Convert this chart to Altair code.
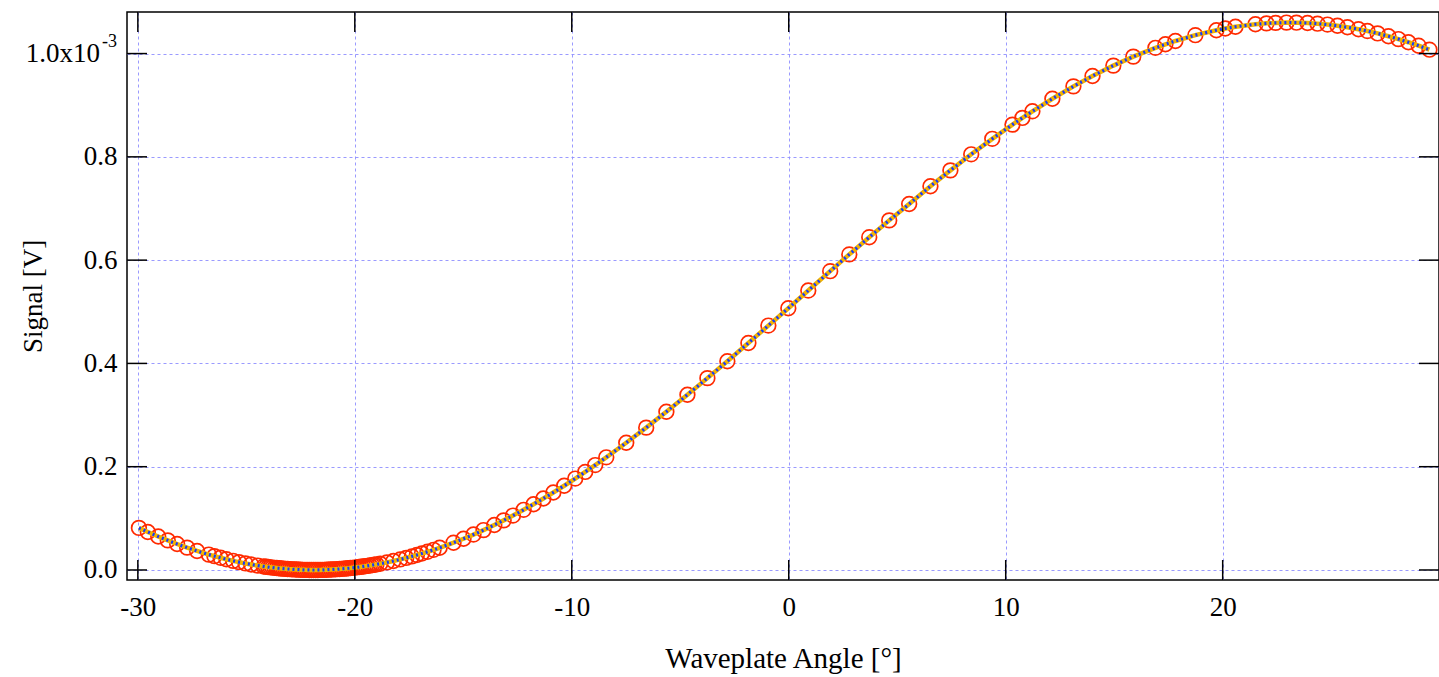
import altair as alt
import pandas as pd

# Waveplate angle (degrees) of each measured point
angle_deg = [
    -29.95, -29.54, -29.06, -28.62, -28.19, -27.73, -27.27, -26.73, -26.47, -26.19,
    -25.92, -25.61, -25.34, -25.04, -24.78, -24.47,
    -24.2, -24.1, -24.0, -23.9, -23.8, -23.7, -23.6, -23.5, -23.4, -23.3,
    -23.2, -23.1, -23.0, -22.9, -22.8, -22.7, -22.6, -22.5, -22.4, -22.3,
    -22.2, -22.1, -22.0, -21.9, -21.8, -21.7, -21.6, -21.5, -21.4, -21.3,
    -21.2, -21.1, -21.0, -20.9, -20.8, -20.7, -20.6, -20.5, -20.4, -20.3,
    -20.2, -20.1, -20.0, -19.9, -19.8, -19.7, -19.6, -19.5, -19.4, -19.3,
    -19.2, -19.1, -19.0,
    -18.83, -18.52, -18.22, -17.91, -17.63, -17.37, -17.14, -16.91, -16.65, -16.37, -16.09,
    -15.45, -14.99, -14.53, -14.07, -13.57, -13.14, -12.71, -12.22, -11.76, -11.31,
    -10.85, -10.35, -9.84, -9.38, -8.92, -8.41,
    -7.49, -6.57, -5.64, -4.67, -3.75, -2.83, -1.86, -0.94, -0.02, 0.90,
    1.91, 2.79, 3.71, 4.63, 5.55, 6.53, 7.45, 8.41, 9.38, 10.31,
    10.77, 11.23, 12.15, 13.12, 14.00, 14.96, 15.88, 16.90, 17.36, 17.82,
    18.74, 19.71, 20.12, 20.59, 21.51, 22.02, 22.44, 22.94, 23.40, 23.91,
    24.37, 24.83, 25.29, 25.75, 26.26, 26.67, 27.14, 27.64, 28.10, 28.56,
    29.03, 29.53,
]

# Signal in units of 1e-3 V
signal_e3 = [
    0.0815, 0.0736, 0.0648, 0.0573, 0.0503, 0.0433, 0.0368, 0.0298, 0.0268, 0.0236,
    0.0207, 0.0177, 0.0152, 0.0127, 0.0107, 0.0085,
    0.00683, 0.00625, 0.00569, 0.00516, 0.00466, 0.00418, 0.00373, 0.00331, 0.00290, 0.00253,
    0.00218, 0.00186, 0.00156, 0.00129, 0.00105, 0.00083, 0.00063, 0.00046, 0.00032, 0.00021,
    0.00012, 0.00005, 0.00001, 0.00000, 0.00001, 0.00005, 0.00012, 0.00021, 0.00032, 0.00046,
    0.00063, 0.00083, 0.00105, 0.00129, 0.00156, 0.00186, 0.00218, 0.00253, 0.00290, 0.00331,
    0.00373, 0.00418, 0.00466, 0.00516, 0.00569, 0.00625, 0.00683, 0.00744, 0.00807, 0.00873,
    0.00941, 0.01012, 0.01086,
    0.01213, 0.01469, 0.01739, 0.02043, 0.02338, 0.02628, 0.02900, 0.03184, 0.03520, 0.03901, 0.04301,
    0.05283, 0.06048, 0.06861, 0.07723, 0.08714, 0.09608, 0.10539, 0.11648, 0.12734, 0.13836,
    0.15003, 0.16317, 0.17701, 0.18988, 0.20312, 0.21818,
    0.24632, 0.27563, 0.30635, 0.33937, 0.37151, 0.40427, 0.43947, 0.47328, 0.50688, 0.54110,
    0.57862, 0.61108, 0.64441, 0.67696, 0.70866, 0.74313, 0.77383, 0.80490, 0.83490, 0.86241,
    0.87543, 0.88820, 0.91254, 0.93648, 0.95659, 0.97669, 0.99409, 1.01112, 1.01800, 1.02440,
    1.03564, 1.04524, 1.04856, 1.05188, 1.05674, 1.05850, 1.05944, 1.05997, 1.05988, 1.05915,
    1.05792, 1.05614, 1.05381, 1.05095, 1.04715, 1.04361, 1.03905, 1.03360, 1.02804, 1.02196,
    1.01523, 1.00752,
]

x_ticks = [-30, -20, -10, 0, 10, 20]
y_ticks = [0.0, 0.0002, 0.0004, 0.0006, 0.0008, 0.0010]
x_domain = [-30.5, 29.97]
y_domain = [-0.0000194, 0.0010805]

df = pd.DataFrame({"angle": angle_deg, "signal": [v * 1e-3 for v in signal_e3]})
xt = pd.DataFrame({"angle": x_ticks})
yt = pd.DataFrame({"signal": y_ticks})
top_label = pd.DataFrame({"signal": [0.0010], "t": ["1.0x10"], "e": ["-3"]})

W, H = 1312, 568
FONT = "Liberation Serif"
xs = alt.Scale(domain=x_domain, nice=False, zero=False)
ys = alt.Scale(domain=y_domain, nice=False, zero=False)

x_axis = alt.Axis(
    values=x_ticks, title="Waveplate Angle [°]", labelExpr="'' + datum.value",
    labelPadding=14, titleY=78, titleBaseline="middle", titleFontSize=29,
)
y_axis = alt.Axis(
    values=y_ticks, title="Signal [V]",
    labelExpr="datum.value > 0.00095 ? '' : format(datum.value * 1000, '.1f')",
    labelPadding=10, titleX=-94, titleY=284, titleBaseline="middle",
)

X = alt.X("angle:Q", scale=xs)
Y = alt.Y("signal:Q", scale=ys)

points = alt.Chart(df).mark_point(
    shape="circle", filled=False, size=215, stroke="#ff2a00", strokeWidth=1.7, opacity=1
).encode(
    x=alt.X("angle:Q", scale=xs, axis=x_axis),
    y=alt.Y("signal:Q", scale=ys, axis=y_axis),
)

fit_orange = alt.Chart(df).mark_line(color="#f2b400", strokeWidth=4.5).encode(x=X, y=Y)
fit_blue = alt.Chart(df).mark_line(color="#1638ff", strokeWidth=3.2, strokeDash=[2, 3]).encode(x=X, y=Y)

tick_style = dict(color="black", strokeWidth=1.5)
tick_bottom = alt.Chart(xt).mark_rule(**tick_style).encode(
    x=X, y=alt.value(H), y2=alt.value(H - 20)
)
tick_top = alt.Chart(xt).mark_rule(**tick_style).encode(
    x=X, y=alt.value(0), y2=alt.value(20)
)
tick_left = alt.Chart(yt).mark_rule(**tick_style).encode(
    y=Y, x=alt.value(0), x2=alt.value(20)
)
tick_right = alt.Chart(yt).mark_rule(**tick_style).encode(
    y=Y, x=alt.value(W), x2=alt.value(W - 20)
)

lab_main = alt.Chart(top_label).mark_text(
    align="right", baseline="middle", font=FONT, fontSize=27, color="black"
).encode(y=Y, x=alt.value(-27), text="t:N")
lab_exp = alt.Chart(top_label).mark_text(
    align="right", baseline="middle", font=FONT, fontSize=18, color="black", dy=-12
).encode(y=Y, x=alt.value(-10), text="e:N")

chart = alt.layer(
    points, fit_orange, fit_blue, tick_bottom, tick_top, tick_left, tick_right, lab_main, lab_exp
).properties(
    width=W, height=H,
    padding={"left": 127, "top": 12, "right": 0, "bottom": 97},
    autosize=alt.AutoSizeParams(type="none"),
    background="white",
).configure_view(
    stroke="black", strokeWidth=1.5
).configure_axis(
    grid=True, gridColor="#8f8fff", gridDash=[3, 3], gridWidth=1, gridOpacity=0.9,
    domain=False, ticks=False, tickSize=0,
    labelFont=FONT, labelFontSize=27, labelColor="black",
    titleFont=FONT, titleFontSize=27, titleFontWeight="normal", titleColor="black",
)

chart.save("out.html", embed_options={"renderer": "svg", "actions": False})
